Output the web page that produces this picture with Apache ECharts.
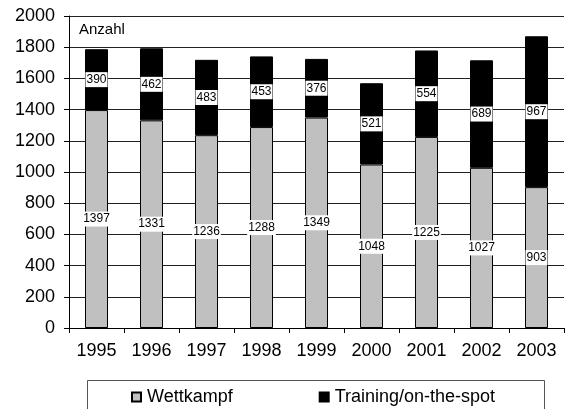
<!DOCTYPE html>
<html>
<head>
<meta charset="utf-8">
<script src="https://cdn.jsdelivr.net/npm/echarts@6/dist/echarts.min.js"></script>
<style>
  html, body { margin: 0; padding: 0; background: #fff; }
  #main { width: 566px; height: 409px; }
</style>
</head>
<body>
<div id="main"></div>
<script>
// data
var years = ['1995', '1996', '1997', '1998', '1999', '2000', '2001', '2002', '2003'];
var wettkampf = [1397, 1331, 1236, 1288, 1349, 1048, 1225, 1027, 903];
var training = [390, 462, 483, 453, 376, 521, 554, 689, 967];

var chart = echarts.init(document.getElementById('main'));

var labelStyle = {
  show: true,
  position: 'inside',
  color: '#000',
  fontFamily: 'Arial, Liberation Sans',
  fontSize: 12,
  backgroundColor: '#fff',
  padding: [2, 1, 1, 1]
};

var option = {
  animation: false,
  grid: { left: 69, right: 2, top: 16, bottom: 81 },
  xAxis: {
    type: 'category',
    data: years,
    axisLine: { lineStyle: { color: '#000', width: 1 } },
    axisTick: { show: true, length: 5, lineStyle: { color: '#000' } },
    axisLabel: { color: '#000', fontSize: 18, fontFamily: 'Arial, Liberation Sans', margin: 14 }
  },
  yAxis: {
    type: 'value',
    min: 0,
    max: 2000,
    interval: 200,
    axisLine: { show: true, lineStyle: { color: '#000', width: 1 } },
    axisTick: { show: true, length: 5, lineStyle: { color: '#000' } },
    axisLabel: {
      color: '#000', fontSize: 18, fontFamily: 'Arial, Liberation Sans', margin: 14,
      formatter: function (v) { return String(v); }
    },
    splitLine: { lineStyle: { color: '#222', width: 1 } }
  },
  legend: {
    data: ['Wettkampf', 'Training/on-the-spot'],
    left: 126,
    top: 383,
    itemWidth: 9,
    itemHeight: 9,
    itemGap: 86,
    icon: 'rect',
    textStyle: { color: '#000', fontSize: 18, fontFamily: 'Arial, Liberation Sans', padding: [0, 0, 0, 1] }
  },
  graphic: [
    {
      type: 'rect',
      shape: { x: 87.5, y: 380.5, width: 457, height: 40 },
      style: { fill: 'none', stroke: '#555', lineWidth: 1 },
      z: -1
    },
    {
      type: 'text',
      left: 79,
      top: 22,
      style: { text: 'Anzahl', fill: '#000', fontSize: 15, fontFamily: 'Arial, Liberation Sans' }
    }
  ],
  series: [
    {
      name: 'Wettkampf',
      type: 'bar',
      stack: 'total',
      barWidth: 23,
      data: wettkampf,
      itemStyle: { color: '#c0c0c0', borderColor: '#000', borderWidth: 1 },
      label: labelStyle
    },
    {
      name: 'Training/on-the-spot',
      type: 'bar',
      stack: 'total',
      barWidth: 23,
      data: training,
      itemStyle: { color: '#000', borderColor: '#000', borderWidth: 1 },
      label: labelStyle
    }
  ]
};

chart.setOption(option);
</script>
</body>
</html>
